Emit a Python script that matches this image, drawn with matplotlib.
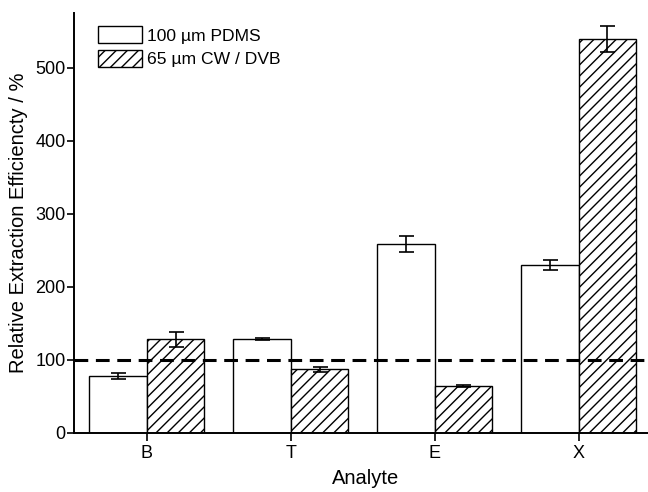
import matplotlib
matplotlib.use("Agg")
import matplotlib.pyplot as plt
import numpy as np

# data
analytes = ["B", "T", "E", "X"]
pdms_vals = [78, 129, 258, 230]
pdms_err = [4, 1.5, 11, 7]
cwdvb_vals = [128, 87, 64, 539]
cwdvb_err = [10, 3, 1.5, 18]
y_ticks = [0, 100, 200, 300, 400, 500]

plt.rcParams["font.family"] = ["Liberation Sans", "DejaVu Sans"]
plt.rcParams["hatch.linewidth"] = 1.0

fig = plt.figure(figsize=(6.48, 4.92), dpi=100)
# axes runs slightly past the right edge, as in the cropped original
ax = fig.add_axes([0.114, 0.12, 0.901, 0.854])

x = np.arange(len(analytes))
w = 0.4
err_kw = dict(ecolor="black", elinewidth=1.2, capsize=5.4, capthick=1.2)

ax.bar(x - w / 2, pdms_vals, w, yerr=pdms_err, color="white",
       edgecolor="black", linewidth=1.0, label="100 µm PDMS",
       error_kw=err_kw, zorder=2)
ax.bar(x + w / 2, cwdvb_vals, w, yerr=cwdvb_err, color="white",
       edgecolor="black", linewidth=1.0, hatch="///",
       label="65 µm CW / DVB", error_kw=err_kw, zorder=2)

ax.axhline(100, color="black", linestyle=(0, (4.5, 2.5)), linewidth=2.2,
           zorder=3)

ax.set_xlim(-0.507, 3.55)
ax.set_ylim(0, 575)
ax.set_xticks(x)
ax.set_xticklabels(analytes)
ax.set_yticks(y_ticks)

for side in ["top", "right"]:
    ax.spines[side].set_visible(False)
for side in ["left", "bottom"]:
    ax.spines[side].set_linewidth(1.4)

ax.tick_params(axis="both", direction="out", width=1.2, labelsize=13,
               colors="black")
ax.tick_params(axis="y", length=5, pad=1)
ax.tick_params(axis="x", length=6, pad=3)

ax.set_ylabel("Relative Extraction Efficiencty / %", fontsize=14.5, labelpad=5)
ax.set_xlabel("Analyte", fontsize=14.5, labelpad=5)

ax.legend(loc="upper left", bbox_to_anchor=(0.015, 1.005), frameon=False,
          fontsize=12.6, handlelength=2.5, handleheight=1.1,
          handletextpad=0.3, labelspacing=0.35)

fig.savefig("out.png", dpi=100)
